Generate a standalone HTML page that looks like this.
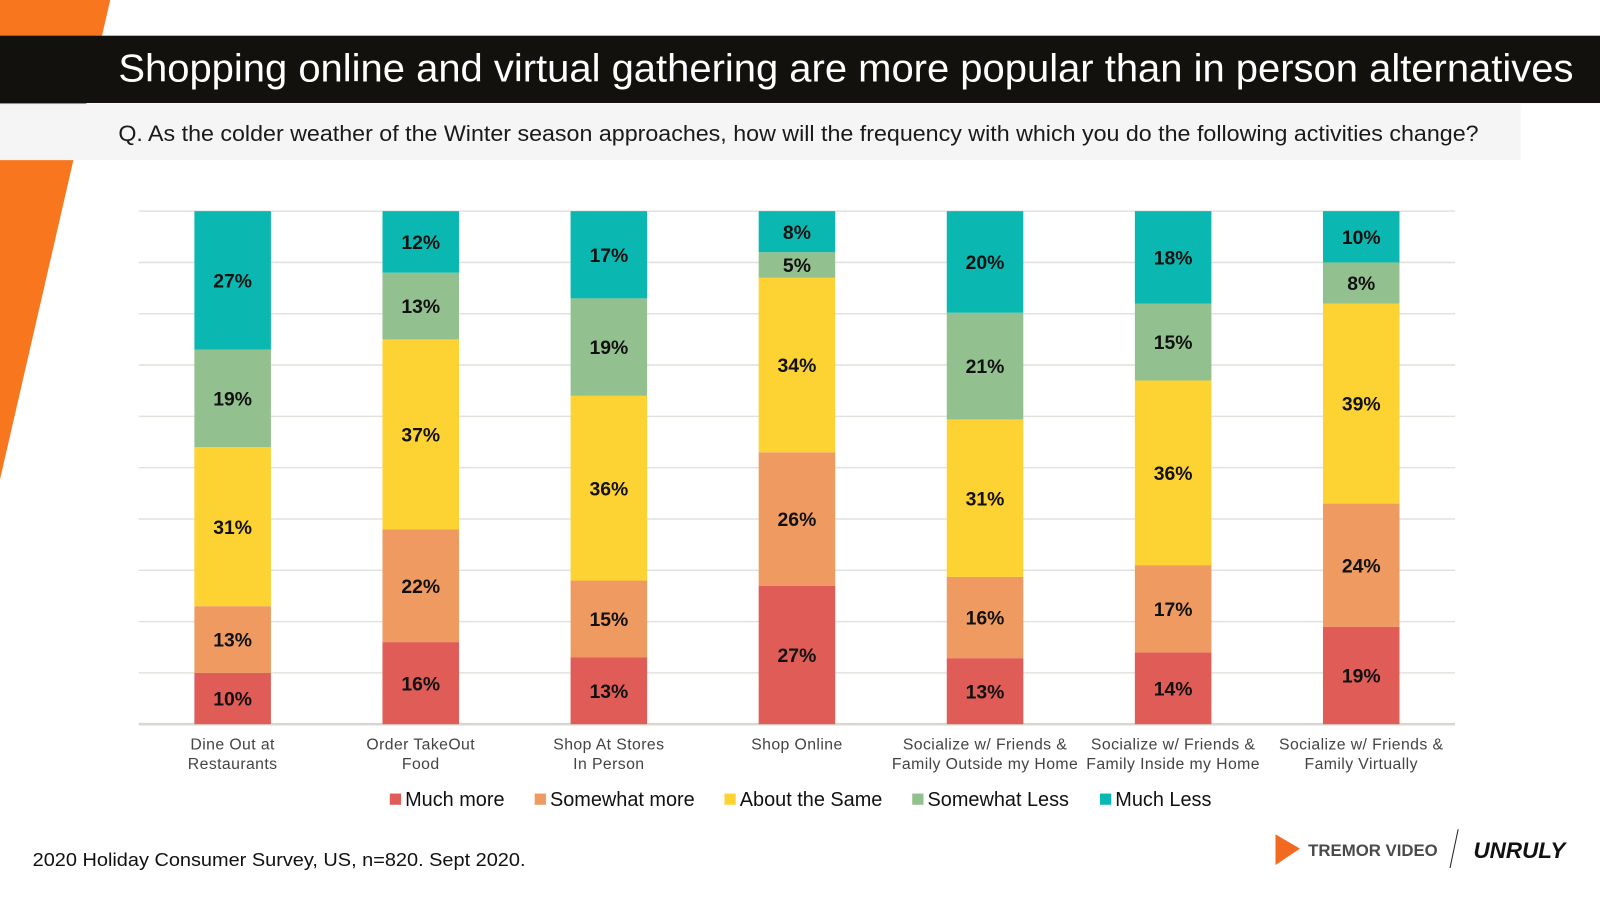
<!DOCTYPE html>
<html><head><meta charset="utf-8"><style>
html,body{margin:0;padding:0;width:1600px;height:900px;overflow:hidden;background:#fff}
#stage{position:absolute;left:0;top:0;width:1568px;height:880px;transform:scale(1.020408,1.02);transform-origin:0 0;font-family:"Liberation Sans",sans-serif}
</style></head><body>
<div id="stage">
<svg width="1568" height="880" xmlns="http://www.w3.org/2000/svg" id="svg">
<polygon points="0,0 108,0 0,470" fill="#F7761E"/>
<rect x="0" y="35" width="1568" height="66" fill="#12110E"/>
<text x="116" y="80" fill="#fff" font-size="38" textLength="1426" lengthAdjust="spacingAndGlyphs">Shopping online and virtual gathering are more popular than in person alternatives</text>
<rect x="0" y="102" width="1490" height="55" fill="#F5F5F5"/>
<text x="116" y="138" fill="#1a1a1a" font-size="21.5" textLength="1333" lengthAdjust="spacingAndGlyphs">Q. As the colder weather of the Winter season approaches, how will the frequency with which you do the following activities change?</text>
<g id="grid"></g><g id="bars"></g><g id="labels"></g><g id="legend"></g>
<text x="32" y="849" fill="#111" font-size="18.5" textLength="483" lengthAdjust="spacingAndGlyphs">2020 Holiday Consumer Survey, US, n=820. Sept 2020.</text>
<g>
<polygon points="1250,818 1274,832 1250,848" fill="#F26A21"/>
<text x="1282" y="839" fill="#4a4a4a" font-size="16" font-weight="bold" textLength="127" lengthAdjust="spacingAndGlyphs">TREMOR VIDEO</text>
</g>
<line x1="1429" y1="813" x2="1421" y2="851" stroke="#222" stroke-width="1"/>
<text x="1444" y="841" fill="#111" font-size="22" font-weight="bold" font-style="italic">UNRULY</text>
</svg>
</div>
<script>
const categories=[["Dine Out at","Restaurants"],["Order TakeOut","Food"],["Shop At Stores","In Person"],["Shop Online"],["Socialize w/ Friends &","Family Outside my Home"],["Socialize w/ Friends &","Family Inside my Home"],["Socialize w/ Friends &","Family Virtually"]];
const seriesNames=["Much more","Somewhat more","About the Same","Somewhat Less","Much Less"];
const muchMore=[10,16,13,27,13,14,19];
const somewhatMore=[13,22,15,26,16,17,24];
const aboutSame=[31,37,36,34,31,36,39];
const somewhatLess=[19,13,19,5,21,15,8];
const muchLess=[27,12,17,8,20,18,10];
const colors=["#E05C57","#EE9A60","#FDD233","#93C08F","#0BB8B1"];
const series=[muchMore,somewhatMore,aboutSame,somewhatLess,muchLess];
const NS="http://www.w3.org/2000/svg";
const top0=207,bot=710,left=136,right=1426,barW=75;
function x(i){return 228+i*((1334-228)/6);}
function mk(t,a,p){const e=document.createElementNS(NS,t);for(const k in a)e.setAttribute(k,a[k]);p.appendChild(e);return e;}
const grid=document.getElementById('grid');
for(let g=0;g<=10;g++){const y=bot-(bot-top0)*g/10;
 const l=mk('line',{x1:left,x2:right,y1:y,y2:y,stroke:g==0?'#D8D8D0':'#E2E2DC','stroke-width':g==0?2.5:1.5},grid);
 
 }
const bars=document.getElementById('bars'),labs=document.getElementById('labels');
categories.forEach((c,i)=>{
 let tot=0;series.forEach(s=>tot+=s[i]);
 let cum=0;
 series.forEach((s,k)=>{
  const y1=bot-(bot-top0)*cum/tot,y2=bot-(bot-top0)*(cum+s[i])/tot;cum+=s[i];
  const r=mk('rect',{x:x(i)-barW/2,y:y2,width:barW,height:y1-y2,fill:colors[k]},bars);
  
  
  const t=mk('text',{x:x(i),y:(y1+y2)/2+7,'text-anchor':'middle','font-size':19,'font-weight':'bold',fill:'#111'},labs);
  t.textContent=s[i]+'%';
  
  
 });
 c.forEach((line,j)=>{
  const t=mk('text',{x:x(i),y:735+j*19,'text-anchor':'middle','font-size':15.5,fill:'#444','letter-spacing':'0.4'},labs);
  t.textContent=line;
  
  
 });
});
const leg=document.getElementById('legend');
const lx=[382,524,710,894,1078];
seriesNames.forEach((n,k)=>{
 const g=mk('g',{},leg);
 
 
 mk('rect',{x:lx[k],y:778,width:11,height:11,fill:colors[k]},g);
 const t=mk('text',{x:lx[k]+15,y:790,'font-size':19.5,fill:'#111'},g);t.textContent=n;
});
</script>
</body></html>
